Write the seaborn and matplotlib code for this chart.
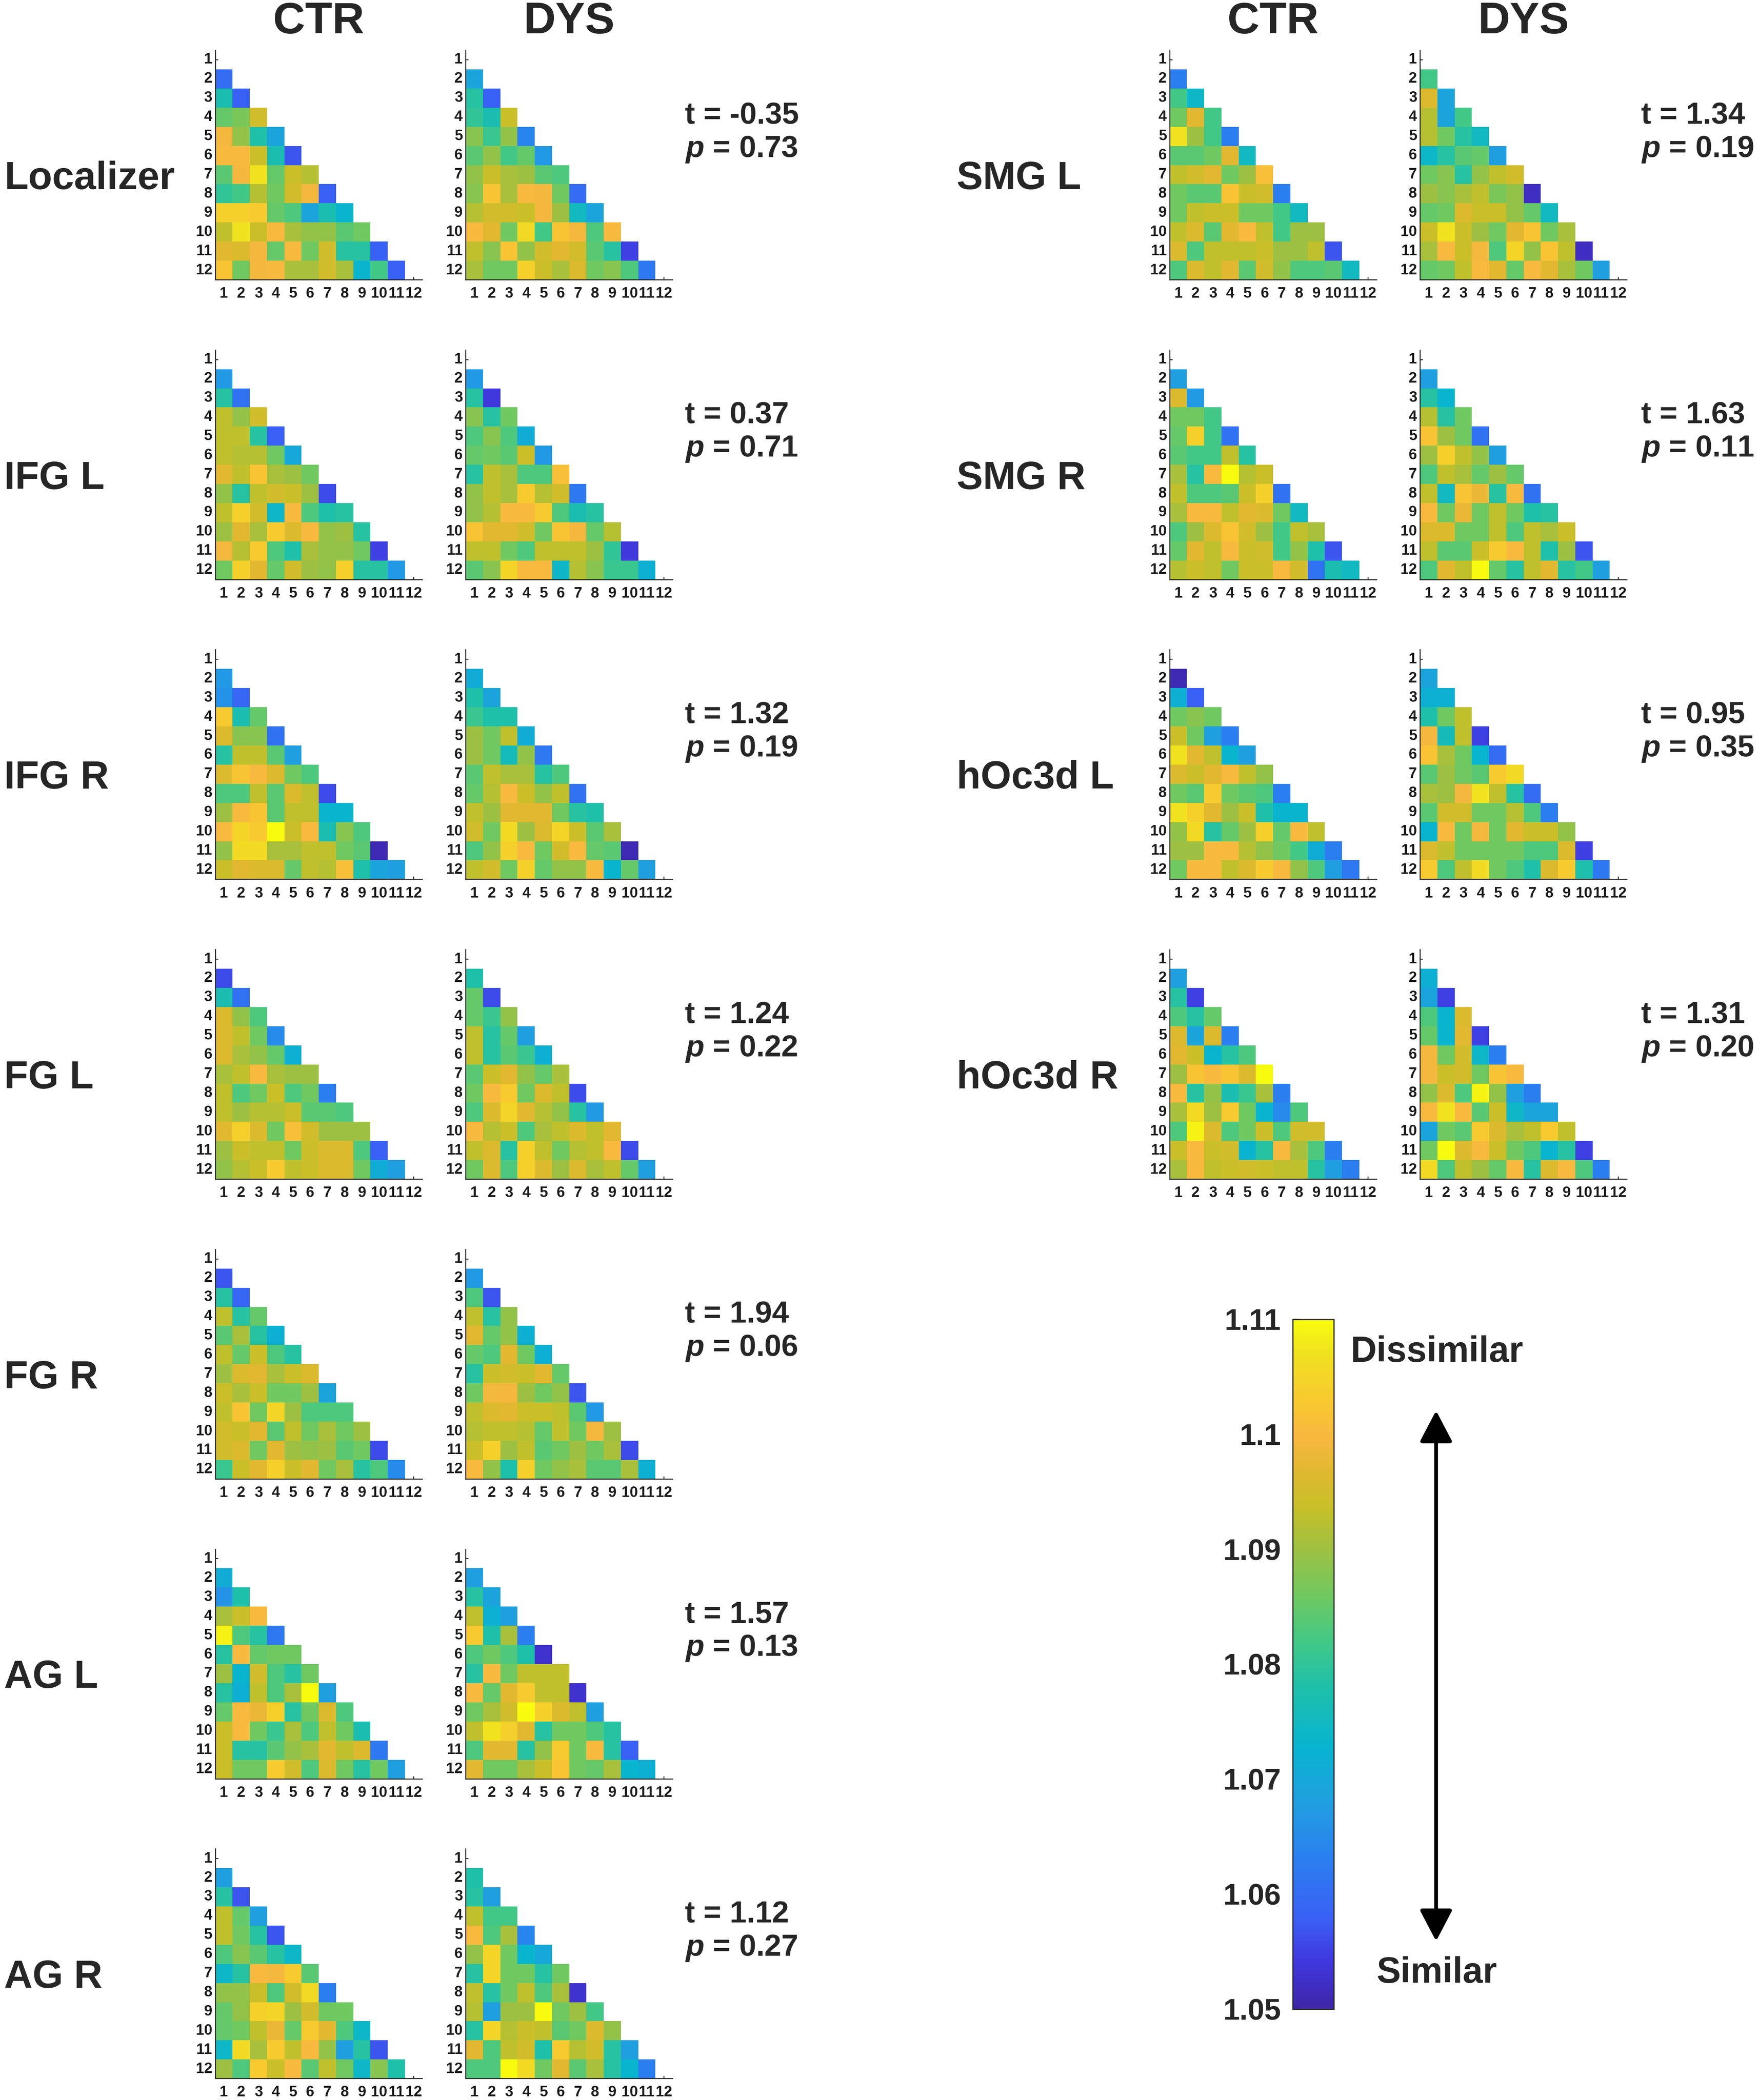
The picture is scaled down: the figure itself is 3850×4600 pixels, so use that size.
import numpy as np
import pandas as pd
import matplotlib
matplotlib.use("Agg")
import matplotlib.pyplot as plt
import seaborn as sns
from matplotlib.colors import LinearSegmentedColormap
from matplotlib.patches import FancyArrowPatch

sns.set_theme(style="white")
plt.rcParams['font.family'] = ['Liberation Sans', 'DejaVu Sans']
plt.rcParams['font.weight'] = 'bold'
plt.rcParams['mathtext.fontset'] = 'custom'
plt.rcParams['mathtext.it'] = 'Liberation Sans:italic:bold'
plt.rcParams['mathtext.rm'] = 'Liberation Sans:bold'

# ---------------- data ----------------
conditions = list(range(1, 13))
roi_names = ["Localizer", "IFG L", "IFG R", "FG L", "FG R", "AG L", "AG R",
             "SMG L", "SMG R", "hOc3d L", "hOc3d R"]
t_values = [-0.35, 0.37, 1.32, 1.24, 1.94, 1.57, 1.12, 1.34, 1.63, 0.95, 1.31]
p_values = [0.73, 0.71, 0.19, 0.22, 0.06, 0.13, 0.27, 0.19, 0.11, 0.35, 0.20]
group_names = ["CTR", "DYS"]
cbar_ticks = [1.05, 1.06, 1.07, 1.08, 1.09, 1.10, 1.11]
cbar_labels = ["1.05", "1.06", "1.07", "1.08", "1.09", "1.1", "1.11"]
vmin, vmax = 1.05, 1.11

ctr_localizer = [
    [1.060],
    [1.077, 1.058],
    [1.085, 1.087, 1.095],
    [1.099, 1.089, 1.078, 1.069],
    [1.100, 1.100, 1.094, 1.077, 1.057],
    [1.084, 1.099, 1.107, 1.085, 1.094, 1.092],
    [1.080, 1.082, 1.092, 1.086, 1.095, 1.099, 1.058],
    [1.104, 1.104, 1.103, 1.085, 1.083, 1.069, 1.077, 1.073],
    [1.093, 1.107, 1.094, 1.100, 1.091, 1.089, 1.089, 1.084, 1.086],
    [1.097, 1.096, 1.099, 1.085, 1.100, 1.086, 1.095, 1.079, 1.079, 1.058],
    [1.102, 1.086, 1.099, 1.100, 1.091, 1.091, 1.095, 1.091, 1.073, 1.082, 1.058],
]
dys_localizer = [
    [1.069],
    [1.079, 1.058],
    [1.080, 1.077, 1.094],
    [1.088, 1.081, 1.089, 1.064],
    [1.084, 1.089, 1.082, 1.085, 1.067],
    [1.089, 1.094, 1.091, 1.090, 1.084, 1.083],
    [1.088, 1.102, 1.091, 1.100, 1.099, 1.086, 1.060],
    [1.092, 1.095, 1.095, 1.094, 1.099, 1.090, 1.075, 1.069],
    [1.100, 1.097, 1.086, 1.106, 1.082, 1.102, 1.099, 1.083, 1.100],
    [1.093, 1.088, 1.102, 1.089, 1.095, 1.097, 1.095, 1.084, 1.079, 1.055],
    [1.091, 1.086, 1.086, 1.104, 1.094, 1.091, 1.096, 1.086, 1.088, 1.083, 1.062],
]
ctr_ifg_l = [
    [1.067],
    [1.079, 1.061],
    [1.093, 1.089, 1.095],
    [1.093, 1.093, 1.079, 1.058],
    [1.093, 1.092, 1.092, 1.086, 1.070],
    [1.097, 1.093, 1.102, 1.091, 1.090, 1.086],
    [1.089, 1.079, 1.093, 1.095, 1.094, 1.090, 1.056],
    [1.093, 1.104, 1.095, 1.074, 1.100, 1.083, 1.078, 1.079],
    [1.090, 1.097, 1.091, 1.103, 1.096, 1.100, 1.089, 1.090, 1.079],
    [1.099, 1.092, 1.103, 1.083, 1.078, 1.091, 1.089, 1.089, 1.086, 1.055],
    [1.086, 1.104, 1.097, 1.085, 1.095, 1.090, 1.089, 1.104, 1.079, 1.079, 1.067],
]
dys_ifg_l = [
    [1.067],
    [1.079, 1.054],
    [1.088, 1.079, 1.086],
    [1.083, 1.088, 1.083, 1.071],
    [1.085, 1.086, 1.084, 1.094, 1.067],
    [1.079, 1.093, 1.091, 1.083, 1.083, 1.101],
    [1.089, 1.093, 1.091, 1.103, 1.092, 1.095, 1.062],
    [1.089, 1.092, 1.100, 1.100, 1.103, 1.083, 1.077, 1.079],
    [1.102, 1.097, 1.097, 1.095, 1.086, 1.102, 1.099, 1.085, 1.092],
    [1.093, 1.093, 1.086, 1.083, 1.093, 1.093, 1.093, 1.090, 1.080, 1.054],
    [1.084, 1.088, 1.105, 1.100, 1.100, 1.074, 1.092, 1.088, 1.081, 1.081, 1.072],
]
ctr_ifg_r = [
    [1.067],
    [1.066, 1.059],
    [1.103, 1.077, 1.085],
    [1.096, 1.088, 1.088, 1.061],
    [1.079, 1.093, 1.093, 1.084, 1.068],
    [1.096, 1.102, 1.100, 1.096, 1.086, 1.083],
    [1.083, 1.083, 1.093, 1.084, 1.096, 1.093, 1.056],
    [1.090, 1.100, 1.102, 1.084, 1.093, 1.093, 1.073, 1.073],
    [1.100, 1.105, 1.103, 1.110, 1.094, 1.100, 1.077, 1.088, 1.083],
    [1.089, 1.106, 1.106, 1.091, 1.091, 1.093, 1.093, 1.086, 1.084, 1.051],
    [1.094, 1.097, 1.096, 1.096, 1.085, 1.093, 1.092, 1.101, 1.078, 1.069, 1.068],
]
dys_ifg_r = [
    [1.071],
    [1.078, 1.069],
    [1.081, 1.078, 1.078],
    [1.090, 1.086, 1.093, 1.071],
    [1.090, 1.086, 1.076, 1.089, 1.062],
    [1.084, 1.093, 1.091, 1.091, 1.079, 1.083],
    [1.085, 1.092, 1.100, 1.094, 1.089, 1.093, 1.061],
    [1.093, 1.090, 1.097, 1.097, 1.097, 1.086, 1.079, 1.078],
    [1.095, 1.086, 1.106, 1.090, 1.096, 1.105, 1.094, 1.084, 1.091],
    [1.083, 1.089, 1.104, 1.100, 1.086, 1.095, 1.100, 1.085, 1.084, 1.051],
    [1.093, 1.095, 1.086, 1.104, 1.085, 1.089, 1.089, 1.100, 1.073, 1.085, 1.068],
]
ctr_fg_l = [
    [1.056],
    [1.077, 1.061],
    [1.096, 1.089, 1.083],
    [1.096, 1.093, 1.086, 1.065],
    [1.096, 1.091, 1.089, 1.085, 1.072],
    [1.091, 1.093, 1.100, 1.091, 1.090, 1.090],
    [1.093, 1.083, 1.086, 1.094, 1.083, 1.086, 1.063],
    [1.093, 1.090, 1.092, 1.092, 1.094, 1.084, 1.084, 1.083],
    [1.097, 1.104, 1.096, 1.086, 1.101, 1.095, 1.090, 1.090, 1.090],
    [1.090, 1.094, 1.093, 1.093, 1.086, 1.094, 1.096, 1.096, 1.083, 1.058],
    [1.089, 1.092, 1.094, 1.103, 1.093, 1.094, 1.096, 1.096, 1.086, 1.071, 1.068],
]
dys_fg_l = [
    [1.078],
    [1.085, 1.056],
    [1.085, 1.081, 1.089],
    [1.093, 1.079, 1.085, 1.068],
    [1.093, 1.079, 1.084, 1.081, 1.072],
    [1.084, 1.094, 1.097, 1.089, 1.085, 1.091],
    [1.086, 1.100, 1.103, 1.086, 1.096, 1.093, 1.056],
    [1.083, 1.096, 1.105, 1.097, 1.092, 1.089, 1.079, 1.067],
    [1.100, 1.092, 1.094, 1.083, 1.091, 1.093, 1.096, 1.093, 1.097],
    [1.093, 1.096, 1.079, 1.104, 1.093, 1.086, 1.092, 1.093, 1.100, 1.056],
    [1.086, 1.096, 1.083, 1.104, 1.096, 1.090, 1.096, 1.091, 1.093, 1.085, 1.068],
]
ctr_fg_r = [
    [1.057],
    [1.079, 1.059],
    [1.093, 1.079, 1.085],
    [1.084, 1.091, 1.079, 1.072],
    [1.093, 1.085, 1.094, 1.083, 1.079],
    [1.090, 1.096, 1.097, 1.091, 1.094, 1.096],
    [1.094, 1.091, 1.094, 1.086, 1.086, 1.090, 1.069],
    [1.093, 1.102, 1.086, 1.105, 1.090, 1.083, 1.083, 1.083],
    [1.095, 1.094, 1.097, 1.084, 1.093, 1.086, 1.091, 1.086, 1.090],
    [1.095, 1.096, 1.086, 1.097, 1.090, 1.089, 1.090, 1.084, 1.086, 1.056],
    [1.081, 1.094, 1.097, 1.104, 1.094, 1.097, 1.086, 1.091, 1.079, 1.083, 1.065],
]
dys_fg_r = [
    [1.067],
    [1.083, 1.057],
    [1.093, 1.079, 1.089],
    [1.097, 1.085, 1.089, 1.072],
    [1.085, 1.083, 1.097, 1.086, 1.072],
    [1.079, 1.094, 1.095, 1.094, 1.097, 1.085],
    [1.086, 1.099, 1.099, 1.090, 1.086, 1.089, 1.057],
    [1.093, 1.096, 1.097, 1.094, 1.094, 1.093, 1.084, 1.067],
    [1.092, 1.093, 1.093, 1.092, 1.085, 1.093, 1.086, 1.099, 1.090],
    [1.094, 1.104, 1.090, 1.093, 1.084, 1.086, 1.090, 1.086, 1.091, 1.056],
    [1.100, 1.089, 1.078, 1.104, 1.086, 1.089, 1.091, 1.084, 1.084, 1.091, 1.072],
]
ctr_ag_l = [
    [1.071],
    [1.066, 1.078],
    [1.091, 1.094, 1.100],
    [1.109, 1.083, 1.079, 1.062],
    [1.079, 1.100, 1.085, 1.086, 1.086],
    [1.090, 1.073, 1.095, 1.083, 1.079, 1.086],
    [1.079, 1.072, 1.093, 1.083, 1.091, 1.110, 1.068],
    [1.085, 1.100, 1.098, 1.104, 1.079, 1.086, 1.096, 1.083],
    [1.094, 1.100, 1.086, 1.081, 1.091, 1.083, 1.093, 1.086, 1.077],
    [1.094, 1.079, 1.079, 1.084, 1.089, 1.091, 1.097, 1.093, 1.096, 1.062],
    [1.094, 1.086, 1.086, 1.103, 1.095, 1.083, 1.096, 1.086, 1.079, 1.086, 1.068],
]
dys_ag_l = [
    [1.068],
    [1.079, 1.069],
    [1.093, 1.072, 1.068],
    [1.103, 1.078, 1.091, 1.063],
    [1.083, 1.086, 1.083, 1.078, 1.053],
    [1.079, 1.100, 1.086, 1.093, 1.093, 1.093],
    [1.100, 1.085, 1.097, 1.103, 1.093, 1.093, 1.053],
    [1.086, 1.091, 1.095, 1.110, 1.104, 1.096, 1.093, 1.068],
    [1.093, 1.107, 1.104, 1.097, 1.079, 1.086, 1.086, 1.083, 1.079],
    [1.083, 1.097, 1.097, 1.079, 1.089, 1.103, 1.086, 1.100, 1.079, 1.058],
    [1.097, 1.086, 1.086, 1.091, 1.094, 1.102, 1.086, 1.085, 1.091, 1.073, 1.072],
]
ctr_ag_r = [
    [1.068],
    [1.079, 1.057],
    [1.093, 1.085, 1.068],
    [1.093, 1.086, 1.079, 1.057],
    [1.083, 1.088, 1.084, 1.079, 1.074],
    [1.074, 1.079, 1.100, 1.099, 1.103, 1.084],
    [1.089, 1.089, 1.094, 1.083, 1.095, 1.106, 1.063],
    [1.085, 1.089, 1.104, 1.105, 1.090, 1.095, 1.086, 1.086],
    [1.085, 1.086, 1.093, 1.098, 1.085, 1.103, 1.097, 1.083, 1.074],
    [1.074, 1.106, 1.091, 1.103, 1.093, 1.100, 1.089, 1.068, 1.079, 1.057],
    [1.090, 1.083, 1.103, 1.094, 1.100, 1.084, 1.093, 1.086, 1.074, 1.088, 1.078],
]
dys_ag_r = [
    [1.078],
    [1.079, 1.068],
    [1.093, 1.082, 1.082],
    [1.100, 1.083, 1.091, 1.064],
    [1.089, 1.105, 1.086, 1.073, 1.070],
    [1.079, 1.105, 1.086, 1.086, 1.079, 1.086],
    [1.093, 1.079, 1.086, 1.093, 1.083, 1.091, 1.053],
    [1.092, 1.068, 1.090, 1.090, 1.110, 1.086, 1.090, 1.082],
    [1.079, 1.105, 1.092, 1.094, 1.093, 1.084, 1.086, 1.096, 1.089],
    [1.097, 1.083, 1.093, 1.095, 1.078, 1.103, 1.092, 1.095, 1.079, 1.068],
    [1.083, 1.083, 1.110, 1.106, 1.086, 1.097, 1.084, 1.091, 1.079, 1.073, 1.063],
]
ctr_smg_l = [
    [1.063],
    [1.082, 1.074],
    [1.086, 1.097, 1.082],
    [1.107, 1.090, 1.082, 1.063],
    [1.084, 1.084, 1.086, 1.097, 1.075],
    [1.093, 1.095, 1.097, 1.086, 1.090, 1.101],
    [1.086, 1.084, 1.084, 1.102, 1.094, 1.095, 1.063],
    [1.086, 1.093, 1.094, 1.094, 1.086, 1.086, 1.082, 1.075],
    [1.093, 1.096, 1.084, 1.097, 1.100, 1.093, 1.082, 1.090, 1.090],
    [1.096, 1.083, 1.093, 1.093, 1.093, 1.094, 1.090, 1.090, 1.093, 1.057],
    [1.083, 1.096, 1.093, 1.097, 1.084, 1.095, 1.089, 1.083, 1.083, 1.084, 1.075],
]
dys_smg_l = [
    [1.082],
    [1.096, 1.069],
    [1.092, 1.069, 1.082],
    [1.092, 1.086, 1.079, 1.075],
    [1.074, 1.079, 1.084, 1.085, 1.068],
    [1.086, 1.088, 1.079, 1.089, 1.093, 1.095],
    [1.090, 1.088, 1.091, 1.093, 1.087, 1.089, 1.052],
    [1.085, 1.086, 1.096, 1.094, 1.094, 1.089, 1.085, 1.075],
    [1.094, 1.107, 1.094, 1.090, 1.086, 1.097, 1.102, 1.086, 1.091],
    [1.091, 1.100, 1.094, 1.099, 1.083, 1.105, 1.089, 1.102, 1.093, 1.052],
    [1.085, 1.086, 1.093, 1.100, 1.097, 1.085, 1.100, 1.097, 1.091, 1.086, 1.068],
]
ctr_smg_r = [
    [1.068],
    [1.096, 1.067],
    [1.086, 1.086, 1.082],
    [1.085, 1.104, 1.082, 1.061],
    [1.084, 1.082, 1.082, 1.093, 1.079],
    [1.091, 1.079, 1.100, 1.110, 1.092, 1.094],
    [1.093, 1.083, 1.083, 1.084, 1.094, 1.104, 1.061],
    [1.091, 1.100, 1.100, 1.093, 1.097, 1.096, 1.086, 1.075],
    [1.083, 1.090, 1.096, 1.102, 1.095, 1.090, 1.082, 1.093, 1.091],
    [1.085, 1.097, 1.093, 1.100, 1.094, 1.095, 1.082, 1.089, 1.078, 1.057],
    [1.092, 1.094, 1.093, 1.086, 1.094, 1.094, 1.100, 1.095, 1.061, 1.077, 1.075],
]
dys_smg_r = [
    [1.068],
    [1.079, 1.073],
    [1.092, 1.079, 1.086],
    [1.102, 1.090, 1.086, 1.061],
    [1.090, 1.104, 1.093, 1.089, 1.068],
    [1.083, 1.093, 1.091, 1.085, 1.090, 1.085],
    [1.093, 1.075, 1.102, 1.098, 1.079, 1.100, 1.061],
    [1.100, 1.086, 1.098, 1.086, 1.093, 1.086, 1.078, 1.079],
    [1.096, 1.096, 1.086, 1.086, 1.093, 1.083, 1.093, 1.091, 1.094],
    [1.093, 1.084, 1.084, 1.094, 1.103, 1.100, 1.093, 1.078, 1.090, 1.057],
    [1.083, 1.097, 1.093, 1.110, 1.085, 1.079, 1.093, 1.097, 1.079, 1.082, 1.068],
]
ctr_hoc3d_l = [
    [1.051],
    [1.072, 1.058],
    [1.086, 1.088, 1.086],
    [1.094, 1.086, 1.068, 1.063],
    [1.107, 1.097, 1.093, 1.073, 1.068],
    [1.096, 1.094, 1.097, 1.100, 1.093, 1.089],
    [1.086, 1.084, 1.103, 1.086, 1.084, 1.083, 1.063],
    [1.107, 1.104, 1.097, 1.090, 1.094, 1.078, 1.073, 1.073],
    [1.089, 1.106, 1.079, 1.085, 1.090, 1.104, 1.085, 1.100, 1.093],
    [1.090, 1.090, 1.100, 1.100, 1.092, 1.089, 1.086, 1.082, 1.071, 1.063],
    [1.086, 1.100, 1.100, 1.093, 1.096, 1.103, 1.100, 1.089, 1.083, 1.068, 1.062],
]
dys_hoc3d_l = [
    [1.069],
    [1.072, 1.072],
    [1.078, 1.086, 1.093],
    [1.099, 1.076, 1.093, 1.055],
    [1.102, 1.091, 1.086, 1.073, 1.060],
    [1.084, 1.090, 1.086, 1.084, 1.103, 1.106],
    [1.091, 1.090, 1.099, 1.107, 1.093, 1.079, 1.060],
    [1.084, 1.095, 1.095, 1.086, 1.086, 1.092, 1.083, 1.063],
    [1.073, 1.100, 1.086, 1.099, 1.086, 1.097, 1.094, 1.094, 1.089],
    [1.096, 1.093, 1.086, 1.086, 1.086, 1.086, 1.083, 1.083, 1.096, 1.055],
    [1.103, 1.083, 1.093, 1.106, 1.086, 1.083, 1.078, 1.096, 1.103, 1.078, 1.062],
]
ctr_hoc3d_r = [
    [1.068],
    [1.079, 1.055],
    [1.083, 1.079, 1.085],
    [1.096, 1.069, 1.096, 1.063],
    [1.097, 1.094, 1.073, 1.079, 1.083],
    [1.090, 1.102, 1.100, 1.102, 1.096, 1.110],
    [1.100, 1.079, 1.089, 1.077, 1.081, 1.091, 1.063],
    [1.091, 1.106, 1.090, 1.103, 1.086, 1.073, 1.065, 1.083],
    [1.083, 1.109, 1.096, 1.083, 1.086, 1.094, 1.083, 1.095, 1.095],
    [1.094, 1.100, 1.094, 1.095, 1.073, 1.079, 1.100, 1.091, 1.083, 1.063],
    [1.091, 1.100, 1.093, 1.094, 1.095, 1.094, 1.093, 1.093, 1.079, 1.068, 1.063],
]
dys_hoc3d_r = [
    [1.072],
    [1.069, 1.055],
    [1.083, 1.073, 1.096],
    [1.085, 1.073, 1.097, 1.055],
    [1.099, 1.086, 1.095, 1.074, 1.063],
    [1.099, 1.094, 1.095, 1.086, 1.102, 1.100],
    [1.089, 1.096, 1.083, 1.109, 1.089, 1.068, 1.063],
    [1.100, 1.107, 1.100, 1.084, 1.094, 1.074, 1.069, 1.069],
    [1.069, 1.086, 1.084, 1.103, 1.096, 1.091, 1.093, 1.103, 1.093],
    [1.086, 1.110, 1.096, 1.100, 1.094, 1.086, 1.083, 1.073, 1.079, 1.055],
    [1.106, 1.083, 1.093, 1.090, 1.085, 1.100, 1.079, 1.096, 1.100, 1.083, 1.063],
]

ctr_data = [ctr_localizer, ctr_ifg_l, ctr_ifg_r, ctr_fg_l, ctr_fg_r, ctr_ag_l, ctr_ag_r,
            ctr_smg_l, ctr_smg_r, ctr_hoc3d_l, ctr_hoc3d_r]
dys_data = [dys_localizer, dys_ifg_l, dys_ifg_r, dys_fg_l, dys_fg_r, dys_ag_l, dys_ag_r,
            dys_smg_l, dys_smg_r, dys_hoc3d_l, dys_hoc3d_r]

# ---------------- style ----------------
parula_anchors = [
    (0.00, "#3e26a8"), (0.07, "#4038e0"), (0.13, "#3a60f5"), (0.22, "#2a80f0"),
    (0.30, "#20a0e0"), (0.38, "#08b4d0"), (0.47, "#20c0a8"), (0.53, "#40c888"),
    (0.60, "#70c860"), (0.67, "#a0c040"), (0.73, "#c8c028"), (0.78, "#e0b830"),
    (0.83, "#f8b840"), (0.88, "#f8c830"), (0.95, "#f0e020"), (1.00, "#f9fb0e"),
]
parula = LinearSegmentedColormap.from_list("parula_like", parula_anchors, N=256)

W, H = 3850, 4600
fig = plt.figure(figsize=(W / 100, H / 100), dpi=100)
fig.patch.set_facecolor("white")

ax_w, ax_h = 453, 503
col_left = [[471.6, 1020.0], [2561.7, 3110.0]]
label_x = [9, 2095]
stat_x = [1500, 3594]
top0, row_step = 110.0, 656.7
panel_col = [0, 0, 0, 0, 0, 0, 0, 1, 1, 1, 1]
panel_row = [0, 1, 2, 3, 4, 5, 6, 0, 1, 2, 3]
ink = "#262626"


def fx(px):
    return px / W


def fy(py):
    return 1 - py / H


def to_frame(rows):
    m = np.full((12, 12), np.nan)
    for i, row in enumerate(rows):
        m[i + 1, :len(row)] = row
    return pd.DataFrame(m, index=conditions, columns=conditions)


def draw(ax, rows):
    df = to_frame(rows)
    sns.heatmap(df, ax=ax, cmap=parula, vmin=vmin, vmax=vmax, cbar=False,
                xticklabels=conditions, yticklabels=conditions, linewidths=0)
    ax.set_xlim(0, 12)
    ax.set_ylim(12, 0)
    for s in ["left", "bottom"]:
        ax.spines[s].set_visible(True)
        ax.spines[s].set_color(ink)
        ax.spines[s].set_linewidth(1.6)
    for s in ["top", "right"]:
        ax.spines[s].set_visible(False)
    ax.tick_params(axis="both", direction="in", length=4, width=1.5, color=ink,
                   labelsize=23.5, labelcolor="#1a1a1a")
    ax.tick_params(axis="x", bottom=True, pad=11, labelrotation=0)
    ax.tick_params(axis="y", left=True, pad=5, labelrotation=0)
    ax.set_xlabel("")
    ax.set_ylabel("")
    for lab in ax.get_xticklabels() + ax.get_yticklabels():
        lab.set_fontweight("bold")


mappable = None
for k, name in enumerate(roi_names):
    c, r = panel_col[k], panel_row[k]
    top = top0 + row_step * r
    for g, data in enumerate([ctr_data[k], dys_data[k]]):
        left = col_left[c][g]
        ax = fig.add_axes([fx(left), fy(top + ax_h), ax_w / W, ax_h / H])
        draw(ax, data)
        mappable = ax.collections[0]
    fig.text(fx(label_x[c]), fy(top + 282), name, ha="left", va="center",
             fontsize=62, fontweight="bold")
    fig.text(fx(stat_x[c]), fy(top + 144), f"t = {t_values[k]:.2f}", ha="left",
             va="center", fontsize=48, fontweight="bold")
    fig.text(fx(stat_x[c]), fy(top + 217), f"$p$ = {p_values[k]:.2f}", ha="left",
             va="center", fontsize=48, fontweight="bold")

# group headers
for c in range(2):
    for g in range(2):
        cx = col_left[c][g] + ax_w / 2
        fig.text(fx(cx), fy(48), group_names[g], ha="center", va="center",
                 fontsize=70, fontweight="bold")

# colorbar
cb_left, cb_right, cb_top, cb_bottom = 2831, 2921, 2890, 4401
cax = fig.add_axes([fx(cb_left), fy(cb_bottom), (cb_right - cb_left) / W, (cb_bottom - cb_top) / H])
cb = fig.colorbar(mappable, cax=cax, ticks=cbar_ticks)
cb.ax.set_yticklabels(cbar_labels)
cb.ax.yaxis.set_ticks_position("left")
cb.ax.yaxis.set_label_position("left")
cb.ax.tick_params(direction="in", length=10, width=1.5, color=ink, labelsize=47, pad=18,
                  left=True, right=False)
for lab in cb.ax.get_yticklabels():
    lab.set_fontweight("bold")
cb.outline.set_linewidth(1.8)
cb.outline.set_edgecolor(ink)

# arrow and labels
arrow = FancyArrowPatch((fx(3145), fy(3090)), (fx(3145), fy(4252)),
                        transform=fig.transFigure,
                        arrowstyle="<|-|>,head_length=1.05,head_width=0.55",
                        mutation_scale=40, lw=6, color="black",
                        shrinkA=0, shrinkB=0)
fig.add_artist(arrow)
fig.text(fx(3147), fy(2963), "Dissimilar", ha="center", va="center",
         fontsize=57, fontweight="bold")
fig.text(fx(3147), fy(4322), "Similar", ha="center", va="center",
         fontsize=57, fontweight="bold")

fig.savefig("out.png", dpi=100, facecolor="white")
